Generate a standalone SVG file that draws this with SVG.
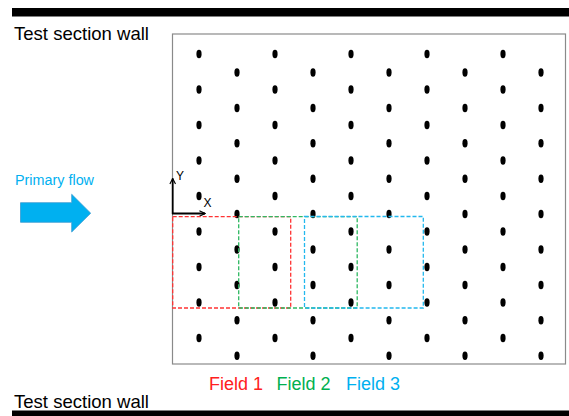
<svg xmlns="http://www.w3.org/2000/svg" xmlns:xlink="http://www.w3.org/1999/xlink" width="569" height="416" viewBox="0 0 569 416">
<style>
.lbl{font-family:"Liberation Sans",Arial,sans-serif;}
.field{fill:none;stroke-width:1.3;stroke-dasharray:4 2;}
</style>
<defs>
<ellipse id="d" cx="0" cy="0" rx="2.6" ry="4.2" fill="#000"/>
<marker id="ah" viewBox="0 0 10 10" refX="9" refY="5" markerWidth="7" markerHeight="7" markerUnits="userSpaceOnUse" orient="auto">
<path d="M1,1 L9,5 L1,9" fill="none" stroke="#000" stroke-width="1.6"/>
</marker>
</defs>
<rect width="569" height="416" fill="#fff"/>
<g id="walls">
<rect x="12" y="8" width="557" height="8.5" fill="#000"/>
<rect x="12" y="410.5" width="557" height="5.5" fill="#000"/>
<text class="lbl" x="14" y="39.5" font-size="18.5" textLength="135" lengthAdjust="spacingAndGlyphs" fill="#000">Test section wall</text>
<text class="lbl" x="14" y="407.5" font-size="18.5" textLength="135" lengthAdjust="spacingAndGlyphs" fill="#000">Test section wall</text>
</g>
<g id="section">
<rect x="172.5" y="34" width="393" height="330" fill="none" stroke="#8a8a8a" stroke-width="1.2"/>
</g>
<g id="dots">
<g id="oddcols">
<use xlink:href="#d" x="199" y="54"/><use xlink:href="#d" x="275" y="54"/><use xlink:href="#d" x="351" y="54"/><use xlink:href="#d" x="427" y="54"/><use xlink:href="#d" x="503" y="54"/>
<use xlink:href="#d" x="199" y="89.5"/><use xlink:href="#d" x="275" y="89.5"/><use xlink:href="#d" x="351" y="89.5"/><use xlink:href="#d" x="427" y="89.5"/><use xlink:href="#d" x="503" y="89.5"/>
<use xlink:href="#d" x="199" y="125"/><use xlink:href="#d" x="275" y="125"/><use xlink:href="#d" x="351" y="125"/><use xlink:href="#d" x="427" y="125"/><use xlink:href="#d" x="503" y="125"/>
<use xlink:href="#d" x="199" y="160.5"/><use xlink:href="#d" x="275" y="160.5"/><use xlink:href="#d" x="351" y="160.5"/><use xlink:href="#d" x="427" y="160.5"/><use xlink:href="#d" x="503" y="160.5"/>
<use xlink:href="#d" x="199" y="196"/><use xlink:href="#d" x="275" y="196"/><use xlink:href="#d" x="351" y="196"/><use xlink:href="#d" x="427" y="196"/><use xlink:href="#d" x="503" y="196"/>
<use xlink:href="#d" x="199" y="231.5"/><use xlink:href="#d" x="275" y="231.5"/><use xlink:href="#d" x="351" y="231.5"/><use xlink:href="#d" x="427" y="231.5"/><use xlink:href="#d" x="503" y="231.5"/>
<use xlink:href="#d" x="199" y="267"/><use xlink:href="#d" x="275" y="267"/><use xlink:href="#d" x="351" y="267"/><use xlink:href="#d" x="427" y="267"/><use xlink:href="#d" x="503" y="267"/>
<use xlink:href="#d" x="199" y="302.5"/><use xlink:href="#d" x="275" y="302.5"/><use xlink:href="#d" x="351" y="302.5"/><use xlink:href="#d" x="427" y="302.5"/><use xlink:href="#d" x="503" y="302.5"/>
<use xlink:href="#d" x="199" y="338"/><use xlink:href="#d" x="275" y="338"/><use xlink:href="#d" x="351" y="338"/><use xlink:href="#d" x="427" y="338"/><use xlink:href="#d" x="503" y="338"/>
</g>
<g id="evencols">
<use xlink:href="#d" x="237" y="72.5"/><use xlink:href="#d" x="313" y="72.5"/><use xlink:href="#d" x="389" y="72.5"/><use xlink:href="#d" x="465" y="72.5"/><use xlink:href="#d" x="541" y="72.5"/>
<use xlink:href="#d" x="237" y="108"/><use xlink:href="#d" x="313" y="108"/><use xlink:href="#d" x="389" y="108"/><use xlink:href="#d" x="465" y="108"/><use xlink:href="#d" x="541" y="108"/>
<use xlink:href="#d" x="237" y="143.3"/><use xlink:href="#d" x="313" y="143.3"/><use xlink:href="#d" x="389" y="143.3"/><use xlink:href="#d" x="465" y="143.3"/><use xlink:href="#d" x="541" y="143.3"/>
<use xlink:href="#d" x="237" y="178.7"/><use xlink:href="#d" x="313" y="178.7"/><use xlink:href="#d" x="389" y="178.7"/><use xlink:href="#d" x="465" y="178.7"/><use xlink:href="#d" x="541" y="178.7"/>
<use xlink:href="#d" x="237" y="214"/><use xlink:href="#d" x="313" y="214"/><use xlink:href="#d" x="389" y="214"/><use xlink:href="#d" x="465" y="214"/><use xlink:href="#d" x="541" y="214"/>
<use xlink:href="#d" x="237" y="249.5"/><use xlink:href="#d" x="313" y="249.5"/><use xlink:href="#d" x="389" y="249.5"/><use xlink:href="#d" x="465" y="249.5"/><use xlink:href="#d" x="541" y="249.5"/>
<use xlink:href="#d" x="237" y="285"/><use xlink:href="#d" x="313" y="285"/><use xlink:href="#d" x="389" y="285"/><use xlink:href="#d" x="465" y="285"/><use xlink:href="#d" x="541" y="285"/>
<use xlink:href="#d" x="237" y="320.3"/><use xlink:href="#d" x="313" y="320.3"/><use xlink:href="#d" x="389" y="320.3"/><use xlink:href="#d" x="465" y="320.3"/><use xlink:href="#d" x="541" y="320.3"/>
<use xlink:href="#d" x="237" y="355.7"/><use xlink:href="#d" x="313" y="355.7"/><use xlink:href="#d" x="389" y="355.7"/><use xlink:href="#d" x="465" y="355.7"/><use xlink:href="#d" x="541" y="355.7"/>
</g>
</g>
<g id="flow">
<text class="lbl" x="15" y="185" font-size="14" textLength="79" lengthAdjust="spacingAndGlyphs" fill="#00B0F0">Primary flow</text>
<path d="M20.5,202.7 H71.7 V194.3 L90.7,213.2 L71.7,232 V222.3 H20.5 Z" fill="#00B0F0" stroke="#3a9bd0" stroke-width="0.8"/>
</g>
<g id="axes">
<line x1="172.7" y1="214" x2="172.7" y2="178.5" stroke="#000" stroke-width="1.8" marker-end="url(#ah)"/>
<line x1="172" y1="213.5" x2="205" y2="213.5" stroke="#000" stroke-width="1.8" marker-end="url(#ah)"/>
<text class="lbl" x="176" y="180" font-size="12" fill="#000">Y</text>
<text class="lbl" x="203.5" y="207" font-size="12" fill="#000">X</text>
</g>
<g id="field1">
<rect class="field" x="172.7" y="216.7" width="118" height="91.3" stroke="#FF3333"/>
</g>
<g id="field2">
<rect class="field" x="238.7" y="216.7" width="118.5" height="91.3" stroke="#2EB862"/>
</g>
<g id="field3">
<rect class="field" x="304.5" y="216.5" width="118.8" height="91.5" stroke="#22B8EE"/>
</g>
<g id="legend">
<text class="lbl" x="209" y="390" font-size="18" fill="#FF2020">Field 1</text>
<text class="lbl" x="276.5" y="390" font-size="18" fill="#00B050">Field 2</text>
<text class="lbl" x="346" y="390" font-size="18" fill="#00B0F0">Field 3</text>
</g>
</svg>
